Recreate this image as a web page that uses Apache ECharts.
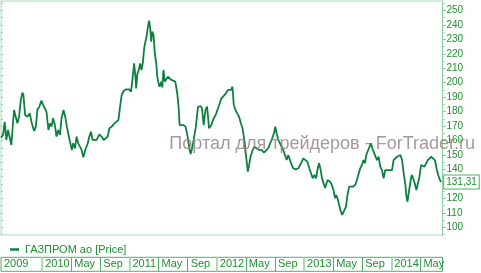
<!DOCTYPE html>
<html>
<head>
<meta charset="utf-8">
<script src="https://cdn.jsdelivr.net/npm/echarts@6/dist/echarts.min.js"></script>
<style>
html,body{margin:0;padding:0;background:#fff;}
#chart{width:481px;height:273px;}
</style>
</head>
<body>
<div id="chart"></div>
<script>
// x position in months since Jan 2009 (fractional)
const monthIdx = [6.34,6.62,6.85,7.07,7.31,7.54,7.76,7.90,8.13,8.37,8.59,8.82,9.06,9.28,9.42,9.65,9.97,10.30,10.52,10.89,11.13,11.35,11.58,11.90,12.13,12.37,12.59,12.86,13.06,13.28,13.51,13.75,13.97,14.20,14.44,14.66,14.93,15.17,15.40,15.62,15.82,16.09,16.27,16.51,16.73,16.96,17.20,17.42,17.65,17.93,18.24,18.48,18.71,18.93,19.17,19.49,19.86,20.17,20.45,20.68,21.00,21.24,21.55,21.93,22.16,22.48,22.71,22.93,23.21,23.54,23.76,23.99,24.23,24.45,24.64,24.82,24.92,25.10,25.28,25.47,25.65,25.83,26.02,26.20,26.38,26.57,26.71,26.85,26.99,27.13,27.31,27.48,27.68,27.82,27.95,28.13,28.37,28.51,28.68,28.86,29.06,29.28,29.51,29.75,29.97,30.30,30.57,30.75,30.89,31.13,31.44,31.72,32.00,32.27,32.41,32.62,32.82,33.10,33.42,33.75,33.97,34.20,34.44,34.66,34.80,34.93,35.26,35.48,35.85,36.17,36.41,36.64,36.86,37.09,37.33,37.55,37.78,37.96,38.16,38.34,38.57,38.80,39.07,39.31,39.54,39.72,39.90,40.09,40.27,40.45,40.64,40.86,41.14,41.47,41.83,42.16,42.48,42.85,43.17,43.40,43.62,43.86,44.04,44.23,44.45,44.68,44.92,45.14,45.37,45.61,45.83,46.06,46.30,46.52,46.89,47.21,47.58,47.90,48.17,48.45,48.72,48.96,49.19,49.41,49.65,49.88,50.06,50.29,50.47,50.65,50.89,51.23,51.58,51.82,52.04,52.27,52.41,52.59,52.82,53.06,53.24,53.51,53.75,53.97,54.20,54.44,54.71,55.03,55.26,55.48,55.72,55.95,56.17,56.37,56.55,56.78,57.00,57.20,57.38,57.56,57.79,58.02,58.24,58.48,58.71,58.93,59.16,59.39,59.62,59.85,60.09,60.31,60.54,60.78,61.00,61.24,61.47,61.70,61.93,62.07,62.21,62.38,62.62,62.80,62.99,63.21,63.44,63.62,63.86,64.09,64.32,64.55,64.79,65.01,65.24,65.48,65.75,65.98,66.21,66.44,66.67,66.85];
const prices = [162.0,163.8,173.0,160.4,167.3,166.1,156.9,166.1,181.1,179.9,171.9,176.5,188.0,193.1,191.5,177.7,176.5,178.8,173.0,166.6,169.6,181.6,183.0,187.6,184.6,185.8,179.9,167.3,171.9,169.6,175.4,170.7,162.7,167.3,163.8,175.4,181.1,176.5,169.6,163.8,159.2,153.5,158.1,154.6,162.7,158.1,159.2,153.5,148.4,153.5,157.6,162.7,166.1,160.4,159.2,160.4,164.3,162.7,160.4,161.6,162.7,168.5,169.6,171.9,172.3,174.2,183.4,191.5,194.3,195.4,194.3,195.4,193.8,204.2,213.4,204.2,196.1,206.5,208.8,213.4,208.8,213.4,223.8,224.5,233.0,239.9,242.9,237.6,228.4,235.3,233.0,220.3,213.4,204.2,200.7,197.2,200.7,196.8,208.8,200.7,199.6,204.2,205.3,201.9,203.0,200.7,192.7,183.4,170.7,170.1,170.7,169.4,162.5,153.5,150.7,154.8,160.4,168.7,183.2,183.9,182.3,170.7,181.1,183.4,176.5,168.5,170.7,174.2,177.7,182.3,183.4,189.2,188.0,191.5,192.7,195.0,196.1,195.0,197.2,184.6,181.1,178.8,176.5,171.9,168.5,162.7,155.7,146.5,138.5,143.1,148.8,152.3,155.7,154.6,153.5,153.5,151.6,153.5,155.7,156.9,161.6,165.0,169.6,165.0,160.4,159.2,155.7,153.5,150.0,146.5,150.0,148.8,143.1,140.8,140.1,140.8,144.3,147.7,147.7,145.4,140.8,137.3,133.9,136.2,133.9,140.8,144.3,139.6,133.9,132.7,127.2,132.7,131.5,129.3,125.8,120.1,122.3,120.1,115.4,110.8,108.5,109.7,114.2,122.3,128.1,129.3,128.1,129.3,132.7,133.9,140.8,143.1,146.5,144.3,150.0,151.2,155.7,158.1,154.6,152.3,151.2,146.5,148.8,141.9,139.6,133.9,139.6,138.5,139.6,138.5,139.6,146.5,147.7,148.8,150.0,150.0,146.5,137.3,129.3,121.2,117.7,123.5,131.5,136.2,133.9,130.4,125.8,126.3,135.0,143.1,144.3,141.9,143.1,146.5,147.7,148.8,148.8,146.5,140.8,136.2,132.7,131.31];

const seriesName = 'ГАЗПРОМ ао [Price]';
const watermark = 'Портал для трейдеров - ForTrader.ru';
const yLabelValues = [100,110,120,130,140,150,160,170,180,190,200,210,220,230,240,250];
const yMinorValues = [95,105,115,125,135,145,155,165,175,185,195,205,215,225,235,245,255];
const yAllTickValues = [95,100,105,110,115,120,125,130,135,140,145,150,155,160,165,170,175,180,185,190,195,200,205,210,215,220,225,230,235,240,245,250,255];
const cellStarts = [6.34,12,16,20,24,28,32,36,40,44,48,52,56,60,64];
const cellLabels = ['2009','2010','May','Sep','2011','May','Sep','2012','May','Sep','2013','May','Sep','2014','May'];
const yearStarts = [12,24,36,48,60];

const X_MIN = 6.34, X_MAX = 67.03, Y_MIN = 94.67, Y_MAX = 256.5;
const FONT = '"Liberation Sans", Arial, sans-serif';
const GREEN_TXT = '#1f8f2f';
const AXIS_GREEN = '#8ccfa0';
const LINE_GREEN = '#0e8040';

const data = monthIdx.map((m, i) => [m, prices[i]]);

const chart = echarts.init(document.getElementById('chart'), null, {renderer: 'canvas'});
chart.setOption({
  animation: false,
  backgroundColor: '#ffffff',
  textStyle: {fontFamily: FONT},
  title: {
    text: watermark,
    right: 6,
    top: 135,
    padding: 0,
    z: 10,
    textStyle: {fontFamily: FONT, fontSize: 18, fontWeight: 'normal', color: 'rgba(150,135,135,0.85)'}
  },
  legend: {
    data: [seriesName],
    left: 10,
    top: 244,
    padding: 0,
    icon: 'rect',
    itemWidth: 9,
    itemHeight: 2.5,
    itemGap: 6,
    textStyle: {fontFamily: FONT, fontSize: 11, color: GREEN_TXT, padding: [0,0,0,1]}
  },
  grid: [
    {left: 1, right: 38.5, top: 1, bottom: 38, show: true, borderColor: '#a6dcb6', borderWidth: 1, containLabel: false},
    {left: 1, right: 38.5, top: 257.3, height: 14, show: true, borderColor: '#4fae6e', borderWidth: 1, containLabel: false}
  ],
  xAxis: [
    {type: 'value', gridIndex: 0, min: X_MIN, max: X_MAX, show: false},
    {
      type: 'value', gridIndex: 1, min: X_MIN, max: X_MAX, position: 'bottom',
      axisLine: {show: false},
      splitLine: {show: false},
      axisTick: {show: true, inside: true, length: 14, customValues: cellStarts.slice(1), lineStyle: {color: '#4fae6e', width: 1}},
      axisLabel: {
        show: true, inside: true, customValues: cellStarts, margin: 7,
        align: 'left', verticalAlign: 'middle', padding: [0,0,0,3],
        fontFamily: FONT, fontSize: 11, color: GREEN_TXT,
        showMinLabel: true, showMaxLabel: true,
        formatter: function (v) { const i = cellStarts.indexOf(v); return i >= 0 ? cellLabels[i] : ''; }
      }
    },
    {
      type: 'value', gridIndex: 1, min: X_MIN, max: X_MAX, position: 'bottom',
      axisLine: {show: false}, splitLine: {show: false}, axisLabel: {show: false},
      axisTick: {show: true, inside: true, length: 14, customValues: yearStarts, lineStyle: {color: '#a9dcb8', width: 2}}
    }
  ],
  yAxis: [
    {
      type: 'value', gridIndex: 0, min: Y_MIN, max: Y_MAX, position: 'right',
      axisLine: {show: true, lineStyle: {color: AXIS_GREEN, width: 1}},
      splitLine: {show: false},
      axisTick: {show: true, length: 3.5, customValues: yLabelValues, lineStyle: {color: AXIS_GREEN}},
      axisLabel: {show: true, customValues: yLabelValues, margin: 4, fontFamily: FONT, fontSize: 10, color: GREEN_TXT}
    },
    {
      type: 'value', gridIndex: 0, min: Y_MIN, max: Y_MAX, position: 'right',
      axisLine: {show: false}, splitLine: {show: false}, axisLabel: {show: false},
      axisTick: {show: true, length: 2, customValues: yMinorValues, lineStyle: {color: AXIS_GREEN}}
    },
    {
      type: 'value', gridIndex: 0, min: Y_MIN, max: Y_MAX, position: 'left',
      axisLine: {show: false}, splitLine: {show: false}, axisLabel: {show: false},
      axisTick: {show: true, inside: true, length: 2, customValues: yAllTickValues, lineStyle: {color: AXIS_GREEN}}
    },
    {
      type: 'value', gridIndex: 1, min: 0, max: 1, show: false
    }
  ],
  series: [{
    name: seriesName,
    type: 'line',
    xAxisIndex: 0,
    yAxisIndex: 0,
    data: data,
    showSymbol: false,
    symbol: 'none',
    lineStyle: {color: LINE_GREEN, width: 1.8},
    itemStyle: {color: LINE_GREEN},
    clip: false,
    endLabel: {
      show: true,
      distance: 3,
      formatter: function (p) { return p.value[1].toFixed(2).replace('.', ','); },
      fontFamily: FONT, fontSize: 10, color: GREEN_TXT,
      backgroundColor: '#ffffff', borderColor: '#4fae6e', borderWidth: 1,
      padding: [2, 2, 1, 2]
    }
  }]
});
</script>
</body>
</html>
